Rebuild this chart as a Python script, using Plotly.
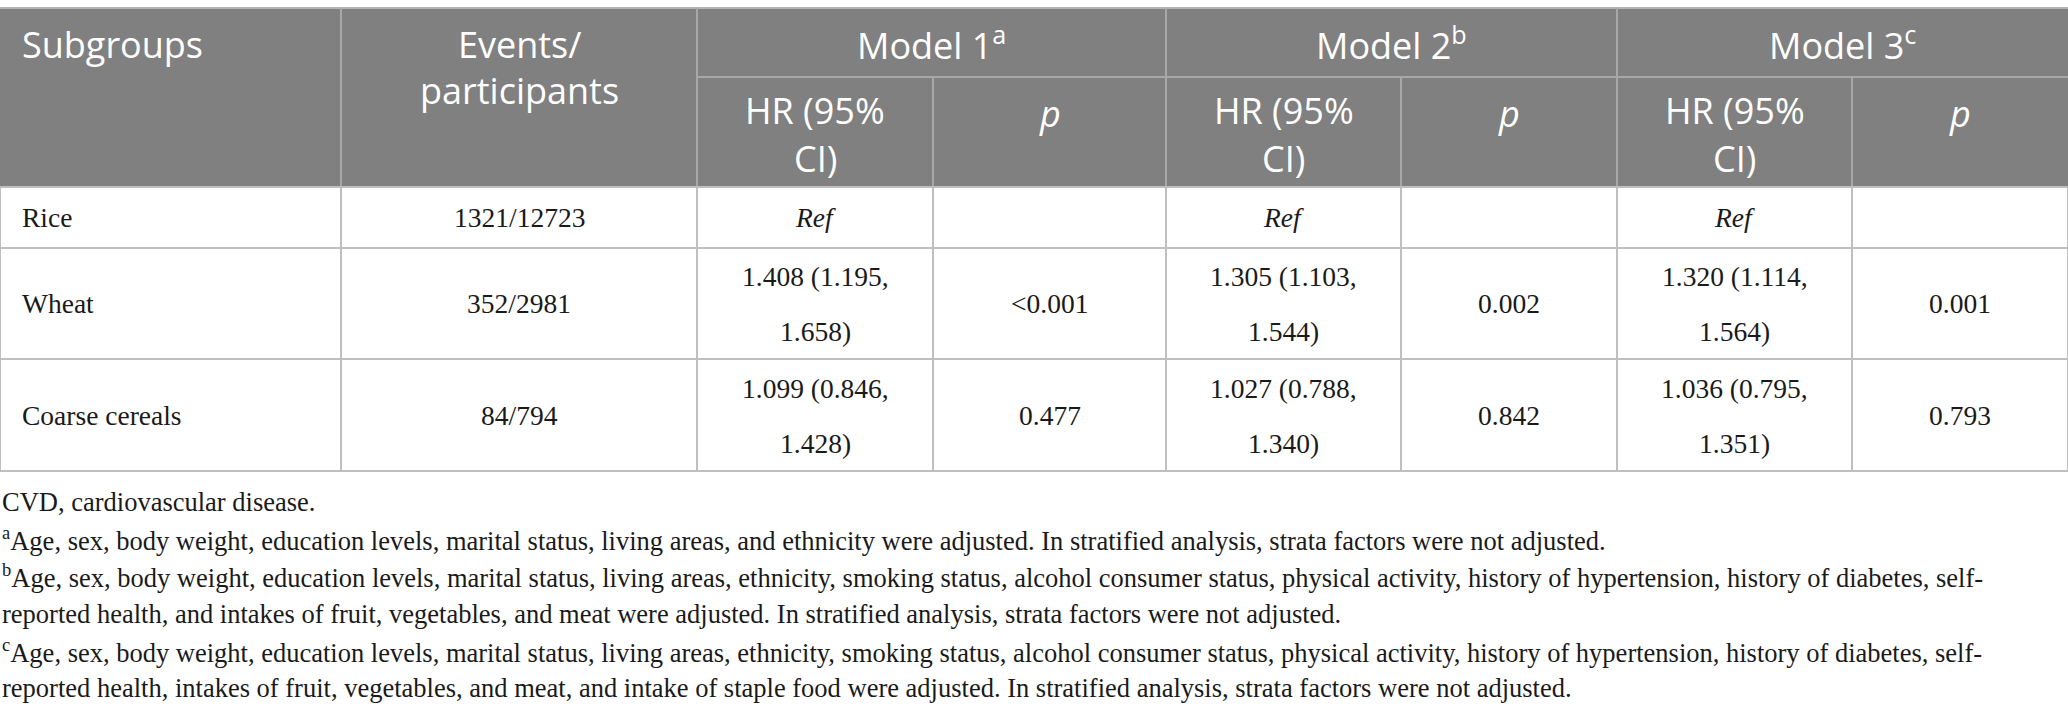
import plotly.graph_objects as go

# --- data ---
subgroups = ["Rice", "Wheat", "Coarse cereals"]
events = ["1321/12723", "352/2981", "84/794"]
model_names = ["Model 1", "Model 2", "Model 3"]
model_marks = ["a", "b", "c"]
hr_model1 = ["Ref", "1.408 (1.195, 1.658)", "1.099 (0.846, 1.428)"]
p_model1 = ["", "<0.001", "0.477"]
hr_model2 = ["Ref", "1.305 (1.103, 1.544)", "1.027 (0.788, 1.340)"]
p_model2 = ["", "0.002", "0.842"]
hr_model3 = ["Ref", "1.320 (1.114, 1.564)", "1.036 (0.795, 1.351)"]
p_model3 = ["", "0.001", "0.793"]
footnotes = [
    "CVD, cardiovascular disease.",
    "<sup>a</sup>Age, sex, body weight, education levels, marital status, living areas, and ethnicity were adjusted. In stratified analysis, strata factors were not adjusted.",
    "<sup>b</sup>Age, sex, body weight, education levels, marital status, living areas, ethnicity, smoking status, alcohol consumer status, physical activity, history of hypertension, history of diabetes, self-",
    "reported health, and intakes of fruit, vegetables, and meat were adjusted. In stratified analysis, strata factors were not adjusted.",
    "<sup>c</sup>Age, sex, body weight, education levels, marital status, living areas, ethnicity, smoking status, alcohol consumer status, physical activity, history of hypertension, history of diabetes, self-",
    "reported health, intakes of fruit, vegetables, and meat, and intake of staple food were adjusted. In stratified analysis, strata factors were not adjusted.",
]

# --- layout (pixels) ---
W, H = 2068, 715
col_edges = [0, 341, 697, 933, 1166, 1401, 1617, 1852, 2068]
full_height_edges = [341, 697, 1166, 1617]   # span both header rows
head_top, head_mid, head_bot = 8, 77, 187
row_edges = [187, 248, 359, 471]
note_y0, note_dy = 502, 37.2

HEAD_BG = "#7f807f"
HEAD_LINE = "#a8a8a8"
BODY_LINE = "#bfbfbf"
head_font = dict(family="Open Sans", size=36, color="white")
body_font = dict(family="Liberation Serif", size=27.5, color="#1a1a1a")
note_font = dict(family="Liberation Serif", size=26.5, color="#1a1a1a")

fig = go.Figure()
shapes = []
ann = []


def esc(s):
    return s.replace("<", "&lt;")


def text(x, y, s, font, anchor="center"):
    ann.append(dict(x=x, y=y, text=s, showarrow=False, font=font,
                    xanchor=anchor, yanchor="middle", xref="x", yref="y"))


def line(x0, y0, x1, y1, color, width):
    shapes.append(dict(type="line", x0=x0, y0=y0, x1=x1, y1=y1,
                       xref="x", yref="y", line=dict(color=color, width=width)))


# header block
shapes.append(dict(type="rect", x0=0, y0=head_top, x1=W, y1=head_bot,
                   xref="x", yref="y", fillcolor=HEAD_BG, line=dict(width=0), layer="below"))
line(0, head_top, W, head_top, "#b4b4b4", 2)
line(col_edges[2], head_mid, W, head_mid, HEAD_LINE, 2)
for xe in col_edges[1:-1]:
    top = head_top if xe in full_height_edges else head_mid
    line(xe, top, xe, head_bot, HEAD_LINE, 2)

text(20, 44, "Subgroups", head_font, "left")
cx1 = (col_edges[1] + col_edges[2]) / 2
text(cx1, 44, "Events/", head_font)
text(cx1, 90, "participants", head_font)
for m, (name, mark) in enumerate(zip(model_names, model_marks)):
    a, b, c = col_edges[2 + 2 * m], col_edges[3 + 2 * m], col_edges[4 + 2 * m]
    text((a + c) / 2, 43, name + "<sup>" + mark + "</sup>", head_font)
    text((a + b) / 2, 110, "HR (95%", head_font)
    text((a + b) / 2, 158, "CI)", head_font)
    text((b + c) / 2, 113, "<i>p</i>", head_font)

# body
for ye in row_edges:
    line(0, ye, W, ye, BODY_LINE, 2)
for xe in col_edges:
    line(xe, row_edges[0], xe, row_edges[-1], BODY_LINE, 2)

columns = [events, hr_model1, p_model1, hr_model2, p_model2, hr_model3, p_model3]
for r in range(len(subgroups)):
    y0, y1 = row_edges[r], row_edges[r + 1]
    cy = (y0 + y1) / 2
    text(20, cy, subgroups[r], body_font, "left")
    for k, col in enumerate(columns):
        cx = (col_edges[k + 1] + col_edges[k + 2]) / 2
        val = col[r]
        if val == "Ref":
            text(cx, cy, "<i>Ref</i>", body_font)
        elif "(" in val:
            first, second = val.split(", ")
            text(cx, cy - 27, first + ",", body_font)
            text(cx, cy + 28, second, body_font)
        elif val:
            text(cx, cy, esc(val), body_font)

# footnotes
for i, note in enumerate(footnotes):
    text(0, note_y0 + i * note_dy, note, note_font, "left")

fig.update_layout(
    width=W, height=H,
    margin=dict(l=0, r=0, t=0, b=0),
    paper_bgcolor="white", plot_bgcolor="white",
    xaxis=dict(range=[0, W], visible=False, fixedrange=True),
    yaxis=dict(range=[H, 0], visible=False, fixedrange=True),
    shapes=shapes, annotations=ann, showlegend=False,
)

fig.write_html("out.html", config={"displayModeBar": False},
               post_script="document.body.style.margin='0';")
